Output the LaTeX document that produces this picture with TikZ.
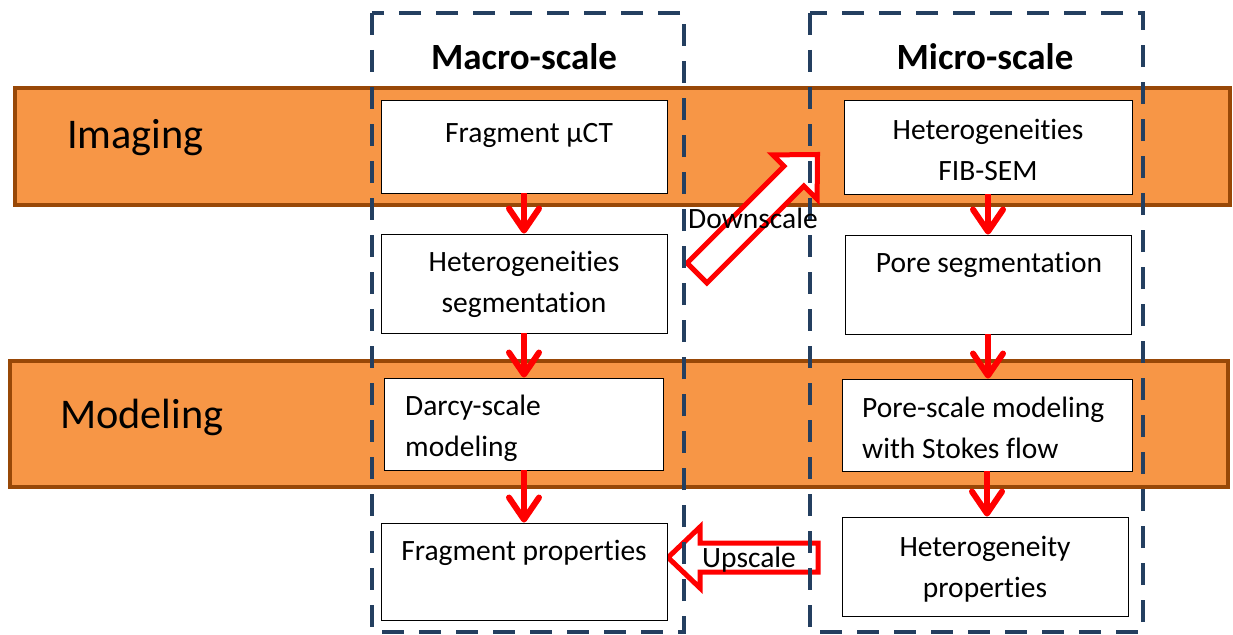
\documentclass[tikz,border=0pt]{standalone}
\usepackage{fontspec}
\setmainfont{Carlito}[Ligatures={NoCommon}]
\usetikzlibrary{arrows.meta}

\definecolor{bandfill}{HTML}{F79646}
\definecolor{bandline}{HTML}{984807}
\definecolor{scaleline}{HTML}{243F60}

\tikzset{
  band/.style={fill=bandfill, draw=bandline, line width=4pt},
  bandtext/.style={font=\fontsize{42.3}{48}\selectfont, anchor=base west, inner sep=0pt},
  scalebox/.style={draw=scaleline, line width=4pt, dash pattern=on 22pt off 15pt},
  scaletext/.style={font=\bfseries\fontsize{37}{44}\selectfont, anchor=base, inner sep=0pt},
  stepbox/.style={draw=black, fill=white, line width=0.9pt, inner sep=0pt},
  steptext/.style={font=\fontsize{29.5}{41}\selectfont, inner sep=0pt, anchor=base, align=center},
  flow/.style={draw=red, line width=6pt, -{Straight Barb[length=22pt, width=30pt, round]}},
  blockarrow/.style={draw=red, fill=white, line width=5pt, line join=miter},
}

\begin{document}
\begin{tikzpicture}[x=1pt, y=-1pt]
    \useasboundingbox (0,0) rectangle (1233,634);

    % ---- Bandas Imaging / Modeling ----
    \draw[band] (15,88) rectangle (1230,205);
    \draw[band] (10,361) rectangle (1228,487);
    \node[bandtext] (imaging) at (67,148) {Imaging};
    \node[bandtext] (modeling) at (60,428) {Modeling};

    % ---- Flechas de bloque (Downscale / Upscale) ----
    \draw[blockarrow] (706.9,282.9) -- (687.1,263.1) -- (784.0,166.2) -- (772.7,154.9)
        -- (817.5,154.5) -- (817.1,199.3) -- (803.8,186.0) -- cycle;
    \draw[blockarrow] (818,543) -- (700,543) -- (700,527) -- (668,557.5)
        -- (700,588) -- (700,572) -- (818,572) -- cycle;

    % ---- Columnas Macro / Micro ----
    \draw[scalebox] (372,13) rectangle (684,632);
    \draw[scalebox] (810,13) rectangle (1143,632);
    \node[scaletext] (macro) at (524,70) {Macro-scale};
    \node[scaletext] (micro) at (985,70) {Micro-scale};

    % ---- Cajas macro ----
    \node[stepbox, minimum width=286pt, minimum height=93pt] (fct) at (524,146.5) {};
    \node[stepbox, minimum width=286pt, minimum height=99pt] (hseg) at (524,283.5) {};
    \node[stepbox, minimum width=279pt, minimum height=92pt] (darcy) at (524,424) {};
    \node[stepbox, minimum width=286pt, minimum height=97pt] (fprop) at (524,571.5) {};

    % ---- Cajas micro ----
    \node[stepbox, minimum width=288pt, minimum height=94pt] (fib) at (988,147) {};
    \node[stepbox, minimum width=286pt, minimum height=99pt] (pseg) at (988,284.5) {};
    \node[stepbox, minimum width=290pt, minimum height=92pt] (pmod) at (987,425) {};
    \node[stepbox, minimum width=286pt, minimum height=99pt] (hprop) at (985,566.5) {};

    % Textos de las cajas (base = ultima linea)
    \node[steptext] (fct-t) at (529,142) {Fragment μCT};
    \node[steptext] (hseg-t) at (524,312) {Heterogeneities\\segmentation};
    \node[steptext, anchor=base west, align=left] (darcy-t) at (405,456) {Darcy-scale\\modeling};
    \node[steptext] (fprop-t) at (524,560) {Fragment properties};
    \node[steptext] (fib-t) at (988,180) {Heterogeneities\\FIB-SEM};
    \node[steptext] (pseg-t) at (989,272) {Pore segmentation};
    \node[steptext, anchor=base west, align=left] (pmod-t) at (862,458) {Pore-scale modeling\\with Stokes flow};
    \node[steptext] (hprop-t) at (985,597) {Heterogeneity\\properties};

    % ---- Flechas de flujo ----
    \draw[flow] (fct.south) -- (hseg.north);
    \draw[flow] (hseg.south) -- (darcy.north);
    \draw[flow] (darcy.south) -- (fprop.north);
    \draw[flow] (fib.south) -- (pseg.north);
    \draw[flow] (pseg.south) -- (pmod.north -| pseg.south);
    \draw[flow] (pmod.south) -- (hprop.north -| pmod.south);

    % Etiquetas de escala
    \node[steptext] (down-t) at (753,228) {Downscale};
    \node[steptext] (up-t) at (749,567) {Upscale};
\end{tikzpicture}
\end{document}
